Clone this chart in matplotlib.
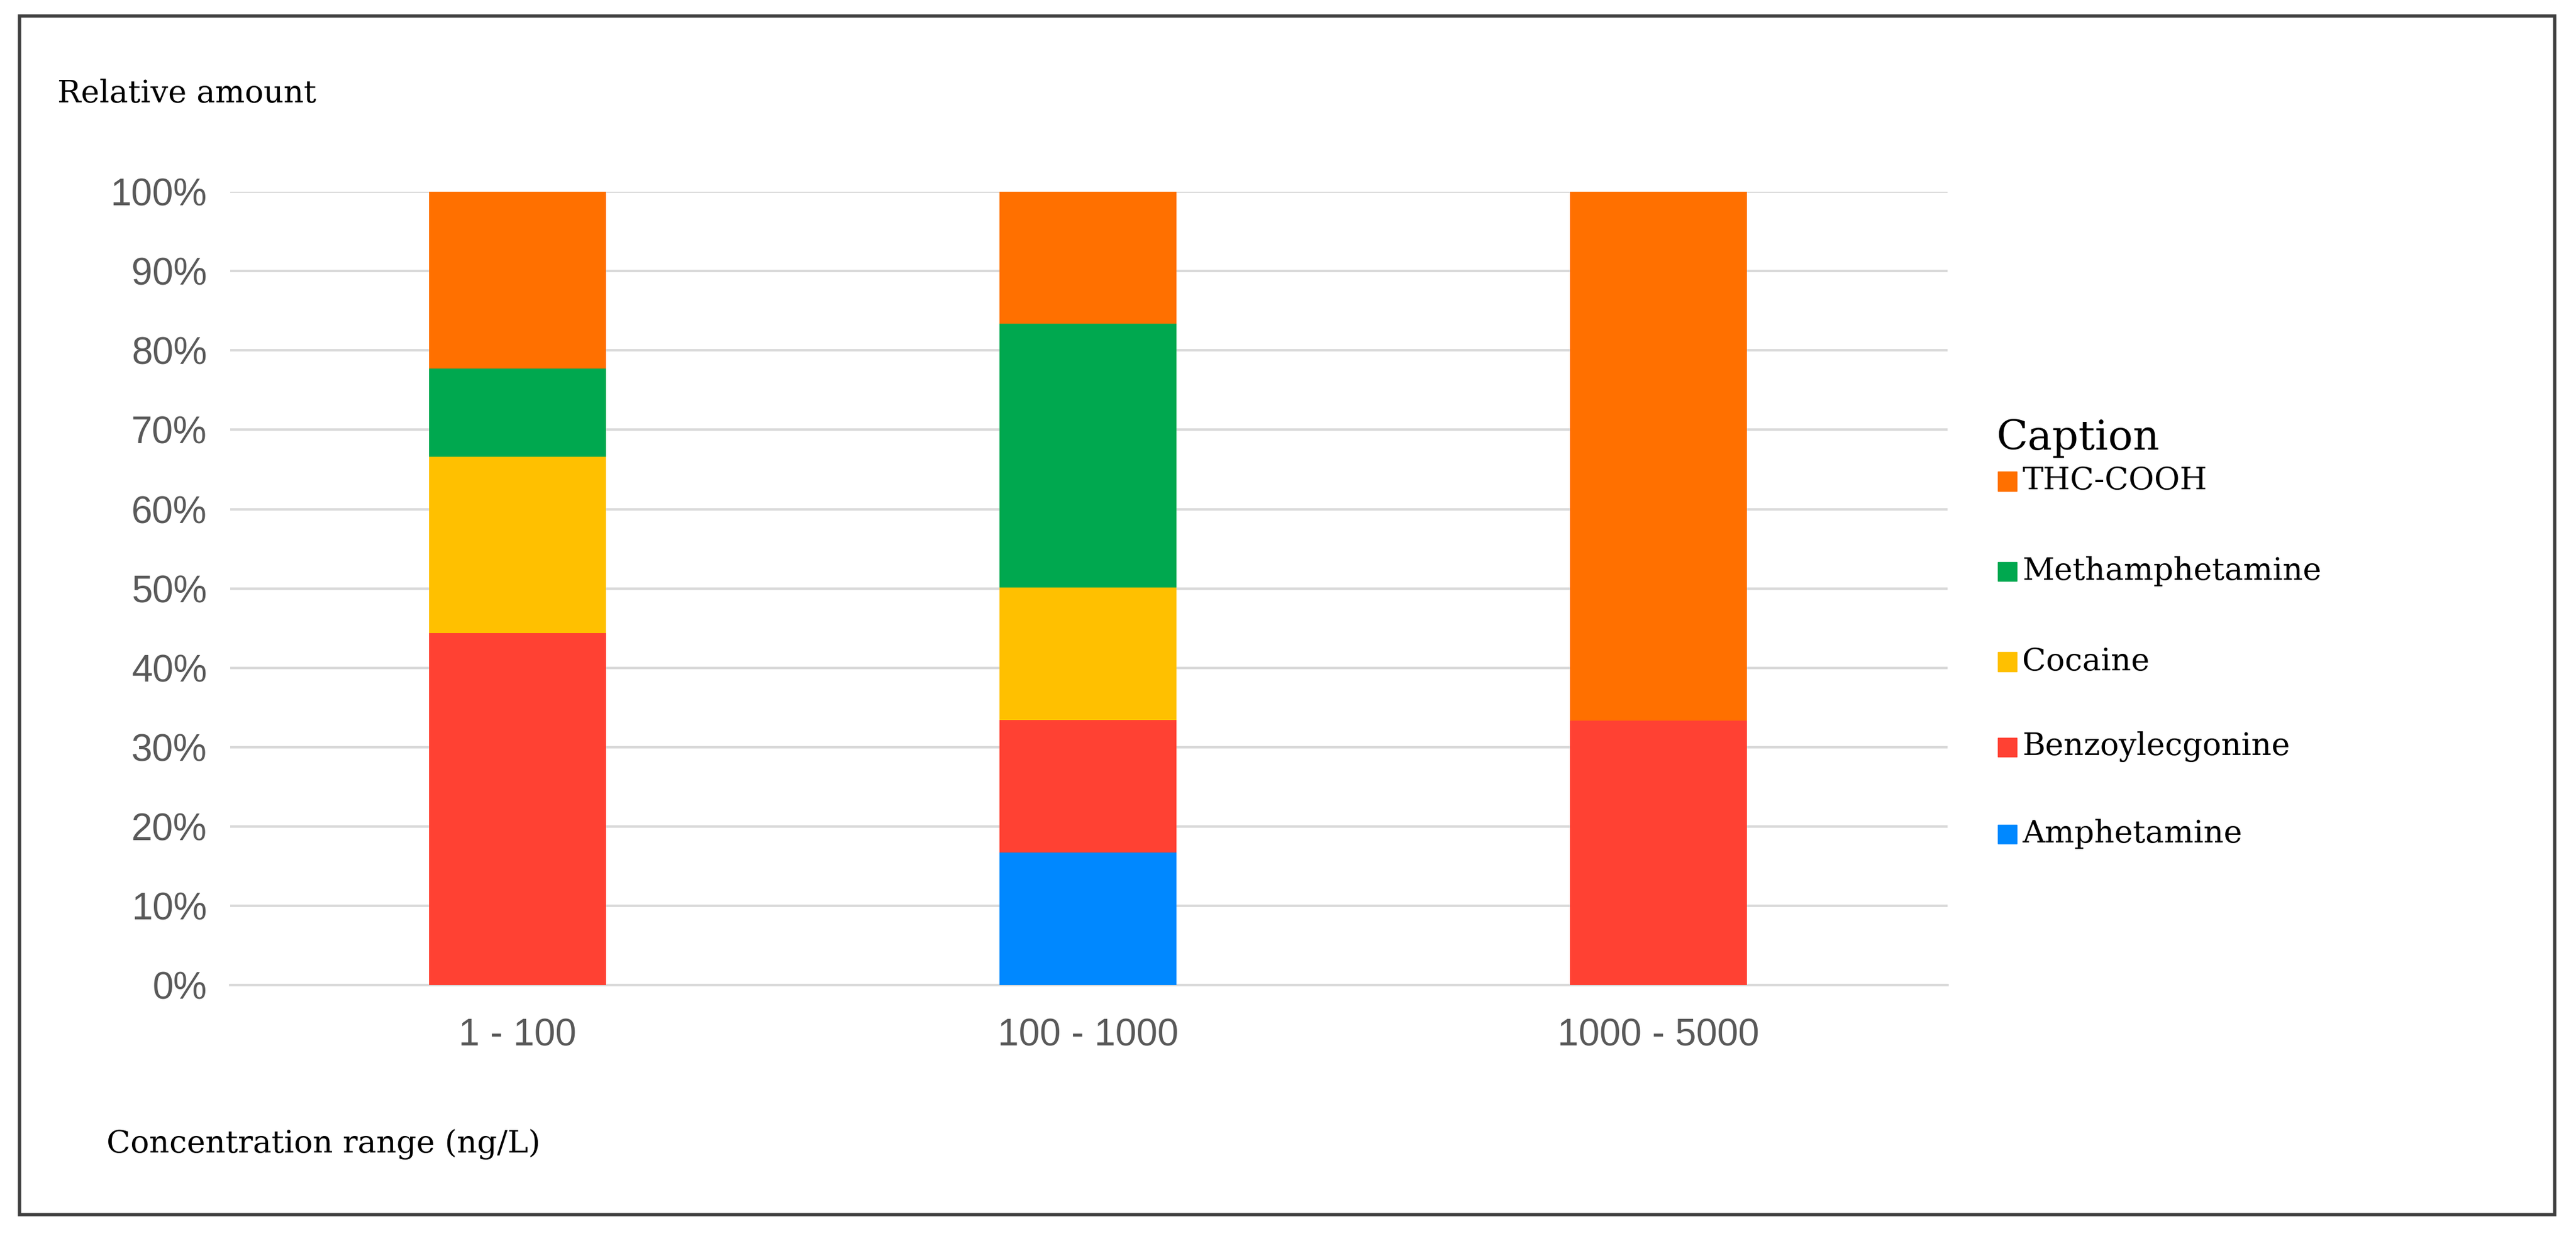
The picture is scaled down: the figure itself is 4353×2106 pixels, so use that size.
import matplotlib.pyplot as plt
from matplotlib.patches import Rectangle
import numpy as np

# data (percent of detections per concentration range)
categories = ["1 - 100", "100 - 1000", "1000 - 5000"]
series = ["Amphetamine", "Benzoylecgonine", "Cocaine", "Methamphetamine", "THC-COOH"]
amphetamine = [0.0, 16.7, 0.0]
benzoylecgonine = [44.4, 16.7, 33.3]
cocaine = [22.2, 16.7, 0.0]
methamphetamine = [11.1, 33.3, 0.0]
thc_cooh = [22.3, 16.6, 66.7]
values = [amphetamine, benzoylecgonine, cocaine, methamphetamine, thc_cooh]
colors = ["#0088FF", "#FF4133", "#FFC000", "#00A84F", "#FF7000"]

W, H = 4353, 2106
fig = plt.figure(figsize=(W / 100, H / 100), dpi=100)
ax = fig.add_axes([0.0893, 0.2095, 0.6667, 0.6365])

x = np.arange(len(categories))
bottom = np.zeros(len(categories))
for vals, c in zip(values, colors):
    ax.bar(x, vals, width=0.31, bottom=bottom, color=c, zorder=3)
    bottom += np.array(vals)

ax.set_xlim(-0.504, 2.507)
ax.set_ylim(0, 100)
ax.set_yticks(range(0, 101, 10))
ax.set_yticklabels([f"{v}%" for v in range(0, 101, 10)])
ax.set_xticks(x)
ax.set_xticklabels(categories)
ax.yaxis.grid(True, color="#D9D9D9", linewidth=3, zorder=0)
for s in ["top", "right", "left"]:
    ax.spines[s].set_visible(False)
ax.spines["bottom"].set_color("#D9D9D9")
ax.spines["bottom"].set_linewidth(3)
ax.tick_params(length=0, labelsize=46, labelcolor="#595959", pad=28)
ax.tick_params(axis="x", pad=40)
for t in ax.get_xticklabels() + ax.get_yticklabels():
    t.set_fontfamily("Liberation Sans")

serif = "DejaVu Serif"
fig.text(35 / 1568, 1 - 57 / 759, "Relative amount", fontsize=38, family=serif, va="center")
fig.text(65 / 1568, 1 - 697 / 759, "Concentration range (ng/L)", fontsize=38, family=serif, va="center")
fig.text(1215 / 1568, 1 - 267 / 759, "Caption", fontsize=50, family=serif, va="center")

legend_y = [508, 455, 403, 348, 293]
for name, c, yy in zip(series, colors, legend_y):
    yf = 1 - yy / 759
    fig.add_artist(Rectangle((1216 / 1568, yf - 0.008), 0.0075, 0.0155,
                             transform=fig.transFigure, color=c))
    fig.text(1231 / 1568, yf, name, fontsize=38, family=serif, va="center")

fig.add_artist(Rectangle((12 / 1568, 0.025), (1555 - 12) / 1568, 0.962,
                         transform=fig.transFigure, fill=False,
                         edgecolor="#404040", linewidth=4))

fig.savefig("out.png", dpi=100)
